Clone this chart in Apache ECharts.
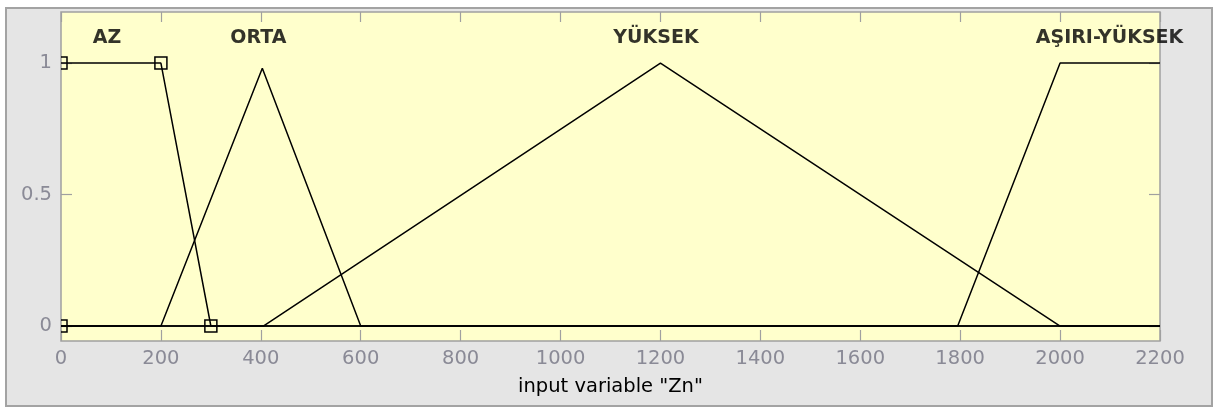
<!DOCTYPE html>
<html>
<head>
<meta charset="utf-8">
<style>
  html, body { margin: 0; padding: 0; background: #ffffff; }
  #chart { width: 1213px; height: 407px; }
</style>
<script src="https://cdn.jsdelivr.net/npm/echarts@6/dist/echarts.min.js"></script>
</head>
<body>
<div id="chart"></div>
<script>
// Membership functions of input variable "Zn"
const mfNames = ['AZ', 'ORTA', 'YÜKSEK', 'AŞIRI-YÜKSEK'];
const mfAZ = [[0, 1], [200, 1], [300, 0], [2200, 0]];
const mfORTA = [[0, 0], [200, 0], [403, 0.98], [600, 0], [2200, 0]];
const mfYUKSEK = [[0, 0], [405, 0], [1200, 1], [2000, 0], [2200, 0]];
const mfASIRI = [[0, 0], [1795, 0], [2000, 1], [2200, 1]];
// parameter handles of the selected function (AZ)
const handlePoints = [[0, 0], [0, 1], [200, 1], [300, 0]];
// label anchors (x) and common label height
const labelX = [92, 395, 1191, 2099];
const labelY = 1.093;
// axes
const xMin = 0, xMax = 2200, xStep = 200;
const yTicks = [0, 0.5, 1];
const yTickLabels = ['0', '0.5', '1'];
const axisName = 'input variable "Zn"';

const chart = echarts.init(document.getElementById('chart'), null, { renderer: 'canvas' });

const gray = '#a0a0a0';
const tickText = '#8a8a96';
const font = '"DejaVu Sans", Verdana, sans-serif';

function mfLine(name, data) {
  return {
    name: name,
    type: 'line',
    data: data,
    symbol: 'none',
    clip: true,
    lineStyle: { color: '#000000', width: 1.5 },
    z: 3,
    animation: false
  };
}

function frameAxis(extra) {
  return Object.assign({
    type: 'value',
    axisLine: { show: false, onZero: false },
    splitLine: { show: false },
    axisLabel: { show: false }
  }, extra);
}

const option = {
  backgroundColor: '#ffffff',
  animation: false,
  graphic: [{
    type: 'rect',
    shape: { x: 6, y: 8, width: 1206, height: 398 },
    style: { fill: '#e5e5e5', stroke: '#a3a3a3', lineWidth: 2 },
    z: -10,
    silent: true
  }],
  grid: {
    left: 61, top: 12, width: 1099, height: 329,
    show: true, backgroundColor: '#ffffcc', borderColor: gray, borderWidth: 1.5
  },
  xAxis: [
    frameAxis({
      min: xMin, max: xMax, interval: xStep, position: 'bottom',
      axisTick: { show: true, inside: true, length: 11, lineStyle: { color: gray, width: 1.2 } },
      axisLabel: { show: true, color: tickText, fontSize: 19.5, fontFamily: font, margin: 8, formatter: v => String(v) },
      name: axisName, nameLocation: 'middle', nameGap: 36,
      nameTextStyle: { color: '#000000', fontSize: 19.5, fontFamily: font }
    }),
    frameAxis({
      min: xMin, max: xMax, interval: xStep, position: 'top',
      axisTick: { show: true, inside: true, length: 10, lineStyle: { color: gray, width: 1.2 } }
    })
  ],
  yAxis: [
    frameAxis({
      min: -0.057, max: 1.194, position: 'left',
      axisTick: { show: true, inside: true, length: 11, customValues: yTicks, lineStyle: { color: gray, width: 1.2 } },
      axisLabel: {
        show: true, color: tickText, fontSize: 19.5, fontFamily: font, margin: 9,
        customValues: yTicks,
        formatter: v => yTickLabels[yTicks.indexOf(Math.round(v * 10) / 10)]
      }
    }),
    frameAxis({
      min: -0.057, max: 1.194, position: 'right',
      axisTick: { show: true, inside: true, length: 11, customValues: yTicks, lineStyle: { color: gray, width: 1.2 } }
    })
  ],
  series: [
    mfLine(mfNames[0], mfAZ),
    mfLine(mfNames[1], mfORTA),
    mfLine(mfNames[2], mfYUKSEK),
    mfLine(mfNames[3], mfASIRI),
    {
      // square handles, clipped at the plot border
      type: 'custom',
      clip: true,
      data: handlePoints,
      z: 4,
      renderItem: function (params, api) {
        const p = api.coord([api.value(0), api.value(1)]);
        const s = 12;
        return {
          type: 'rect',
          shape: { x: p[0] - s / 2, y: p[1] - s / 2, width: s, height: s },
          style: { fill: 'none', stroke: '#000000', lineWidth: 1.5 }
        };
      }
    },
    {
      // function names above each curve
      type: 'scatter',
      symbolSize: 0,
      clip: false,
      z: 5,
      data: mfNames.map((n, i) => ({ name: n, value: [labelX[i], labelY] })),
      label: {
        show: true, position: 'inside',
        formatter: p => p.name,
        color: '#000000', fontSize: 19, fontWeight: 'bold', fontFamily: font
      }
    }
  ]
};

chart.setOption(option);
</script>
</body>
</html>
